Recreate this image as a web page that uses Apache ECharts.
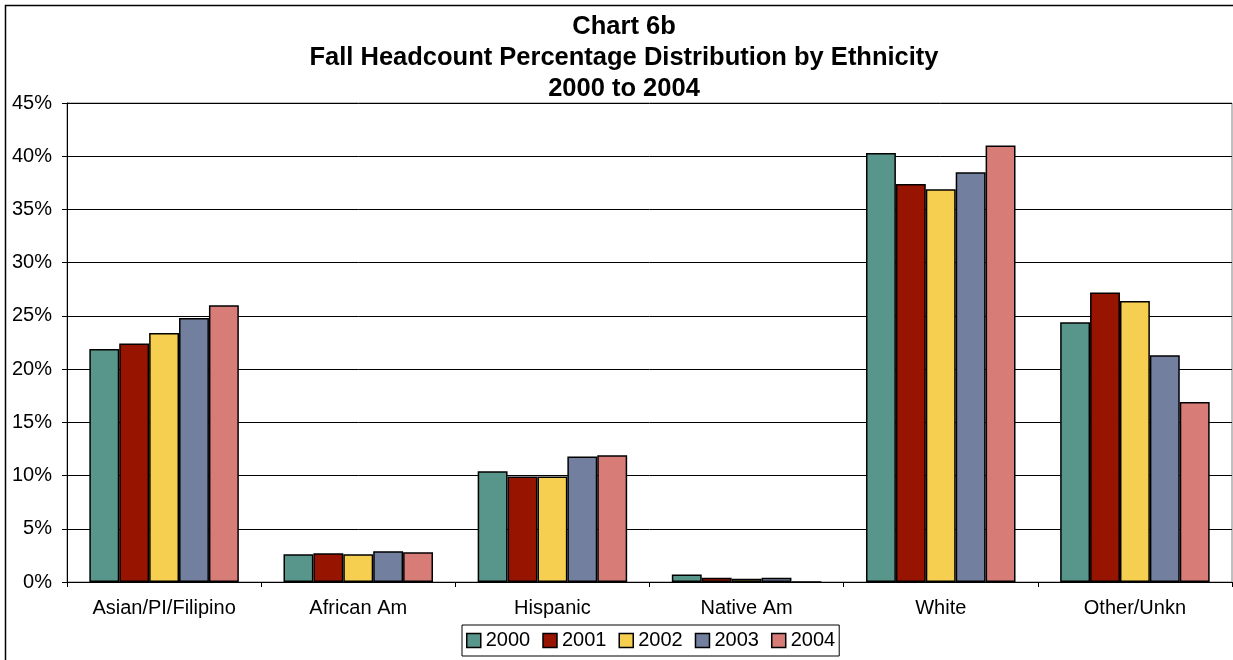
<!DOCTYPE html>
<html>
<head>
<meta charset="utf-8">
<script src="https://cdn.jsdelivr.net/npm/echarts@6/dist/echarts.min.js"></script>
<style>
  html, body { margin: 0; padding: 0; background: #fff; }
  #chart { width: 1233px; height: 660px; }
</style>
</head>
<body>
<div id="chart"></div>
<script>
// Fall headcount share by ethnicity, percent of total, 2000–2004
const categories = ['Asian/PI/Filipino', 'African Am', 'Hispanic', 'Native Am', 'White', 'Other/Unkn'];
const years = ['2000', '2001', '2002', '2003', '2004'];
const pct2000 = [21.9, 2.6, 10.4, 0.7, 40.3, 24.4];
const pct2001 = [22.4, 2.7, 9.9, 0.4, 37.4, 27.2];
const pct2002 = [23.4, 2.6, 9.9, 0.3, 36.9, 26.4];
const pct2003 = [24.8, 2.9, 11.8, 0.4, 38.5, 21.3];
const pct2004 = [26.0, 2.8, 11.9, 0, 41.0, 16.9];
const yTicks = { min: 0, max: 45, step: 5 };

const seriesValues = [pct2000, pct2001, pct2002, pct2003, pct2004];
const colors = ['#58968B', '#961400', '#F7CF50', '#737F9F', '#D87C78'];
const FONT = '"Liberation Sans", Arial, sans-serif';

const chart = echarts.init(document.getElementById('chart'), null, { renderer: 'canvas' });

chart.setOption({
  animation: false,
  backgroundColor: '#fff',
  color: colors,
  textStyle: { fontFamily: FONT, color: '#000' },
  title: {
    text: 'Chart 6b\nFall Headcount Percentage Distribution by Ethnicity\n2000 to 2004',
    left: 619,
    textAlign: 'center',
    top: 6,
    textStyle: {
      fontFamily: FONT,
      fontWeight: 'bold',
      fontSize: 25.5,
      lineHeight: 31,
      color: '#000'
    }
  },
  graphic: [{
    type: 'rect',
    silent: true,
    z: 100,
    shape: { x: 5.5, y: 5.5, width: 1300, height: 700 },
    style: { fill: null, stroke: '#000', lineWidth: 1.5 }
  }],
  legend: {
    data: years,
    left: 462,
    top: 625,
    orient: 'horizontal',
    icon: 'rect',
    itemWidth: 14,
    itemHeight: 14,
    itemGap: 12,
    padding: [5, 4, 5, 4],
    borderColor: '#000',
    borderWidth: 1,
    itemStyle: { borderColor: '#000', borderWidth: 1.5 },
    textStyle: { fontFamily: FONT, fontSize: 20, lineHeight: 21, color: '#000' }
  },
  grid: {
    left: 67,
    right: 1,
    top: 103,
    bottom: 78,
    show: true,
    borderColor: '#808080',
    borderWidth: 1,
    containLabel: false
  },
  xAxis: {
    type: 'category',
    data: categories,
    axisLine: { show: true, lineStyle: { color: '#000', width: 1 } },
    axisTick: { show: true, alignWithLabel: false, length: 5, lineStyle: { color: '#000' } },
    axisLabel: { fontFamily: FONT, fontSize: 20, color: '#000', margin: 16, interval: 0 },
    splitLine: { show: false }
  },
  yAxis: {
    type: 'value',
    min: yTicks.min,
    max: yTicks.max,
    interval: yTicks.step,
    axisLine: { show: true, lineStyle: { color: '#000', width: 1 } },
    axisTick: { show: true, inside: false, length: 5, lineStyle: { color: '#000' } },
    axisLabel: { fontFamily: FONT, fontSize: 20, color: '#000', margin: 15, formatter: '{value}%' },
    splitLine: { show: true, lineStyle: { color: '#000', width: 1 } }
  },
  series: years.map((y, i) => ({
    name: y,
    type: 'bar',
    data: seriesValues[i],
    barGap: '0%',
    barCategoryGap: '23%',
    itemStyle: { color: colors[i], borderColor: '#000', borderWidth: 1.5 },
    emphasis: { disabled: true }
  }))
});
</script>
</body>
</html>
